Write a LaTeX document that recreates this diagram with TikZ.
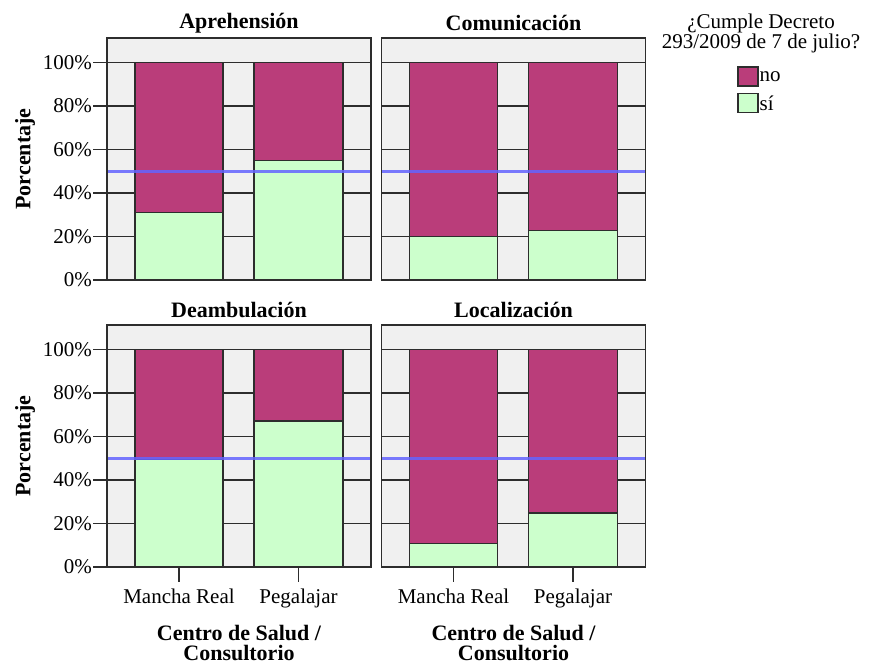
\documentclass[tikz,border=0pt]{standalone}
\usepackage{fontspec}
\setmainfont{Liberation Serif}

\definecolor{barno}{RGB}{186,61,122}
\definecolor{barsi}{RGB}{204,255,204}
\definecolor{panelbg}{RGB}{240,240,240}
\definecolor{refline}{RGB}{100,100,255}
\definecolor{inkc}{RGB}{45,45,45}

\tikzset{
  gridline/.style={draw=inkc, line width=1.3pt},
  framec/.style={draw=inkc, line width=1.3pt},
  barbox/.style={draw=inkc, line width=1.2pt},
  halfline/.style={draw=refline, line width=2.8pt, opacity=0.85},
  paneltitle/.style={font=\fontsize{22}{24}\selectfont\bfseries, inner sep=0pt},
  ticklabel/.style={font=\fontsize{21}{23}\selectfont, inner sep=0pt},
  axistitle/.style={font=\fontsize{22}{20}\selectfont\bfseries, inner sep=0pt, align=center},
  legendtext/.style={font=\fontsize{21}{19.5}\selectfont, inner sep=0pt},
}

% One facet: #1 name, #2 left edge, #3 y of 0%, #4 title, #5 and #6 share of "si" (percent)
\newcommand\chartpanel[6]{%
  \begin{scope}[shift={(#2,#3)}]
    \fill[panelbg] (0,0) rectangle (264,-242);
    \foreach \p in {20,40,60,80,100}
      \draw[gridline] (0,-2.174*\p) -- (264,-2.174*\p);
    % Mancha Real
    \filldraw[barbox, fill=barsi] (28,0) rectangle (116,-2.174*#5);
    \filldraw[barbox, fill=barno] (28,-2.174*#5) rectangle (116,-217.4);
    % Pegalajar
    \filldraw[barbox, fill=barsi] (147,0) rectangle (236,-2.174*#6);
    \filldraw[barbox, fill=barno] (147,-2.174*#6) rectangle (236,-217.4);
    \draw[halfline] (0,-108.7) -- (264,-108.7);
    \draw[framec] (0,0) rectangle (264,-242);
    \node[paneltitle] (#1) at (132,-257) {#4};
  \end{scope}}

% Vertical axis of a row: #1 y of 0%, #2 name prefix
\newcommand\percentaxis[2]{%
  \begin{scope}[shift={(0,#1)}]
    \foreach \p in {0,20,40,60,80,100}{
      \draw[gridline] (93,-2.174*\p) -- (107,-2.174*\p);
      \node[ticklabel, anchor=east] at (92,-2.174*\p) {\p\%};
    }
    \node[axistitle, rotate=90] (#2) at (25,-121) {Porcentaje};
  \end{scope}}

% Horizontal axis under a bottom facet: #1 left edge, #2 name prefix
\newcommand\centreaxis[2]{%
  \begin{scope}[shift={(#1,567)}]
    \draw[gridline] (72,0) -- (72,15);
    \draw[gridline] (191.5,0) -- (191.5,15);
    \node[ticklabel, anchor=base] (#2mr) at (72,36) {Mancha Real};
    \node[ticklabel, anchor=base] (#2pg) at (191.5,36) {Pegalajar};
    \node[axistitle, anchor=north] (#2t) at (132,58) {Centro de Salud /\\Consultorio};
  \end{scope}}

\begin{document}
\begin{tikzpicture}[x=1pt, y=-1pt]
  \useasboundingbox (0,0) rectangle (874,665);

  \chartpanel{aprehension}{107}{280}{Aprehensión}{31.2}{55}
  \chartpanel{comunicacion}{381.5}{280}{Comunicación}{20}{22.7}
  \chartpanel{deambulacion}{107}{567}{Deambulación}{49.6}{67.2}
  \chartpanel{localizacion}{381.5}{567}{Localización}{10.8}{24.8}

  \percentaxis{280}{ytop}
  \percentaxis{567}{ybot}
  \centreaxis{107}{xl}
  \centreaxis{381.5}{xr}

  % legend
  \node[legendtext, anchor=base] (legtitle) at (761,28.5) {¿Cumple Decreto};
  \node[legendtext, anchor=base] (legtitleb) at (761,48) {293/2009 de 7 de julio?};
  \node[draw=inkc, line width=1.3pt, fill=barno, minimum width=20pt, minimum height=19pt, inner sep=0pt] (swno) at (748,76.5) {};
  \node[draw=inkc, line width=1.3pt, fill=barsi, minimum width=20pt, minimum height=19pt, inner sep=0pt] (swsi) at (748,103) {};
  \node[ticklabel, anchor=west] (lno) at (759.5,77) {no};
  \node[ticklabel, anchor=west] (lsi) at (759.5,103) {sí};
\end{tikzpicture}
\end{document}
